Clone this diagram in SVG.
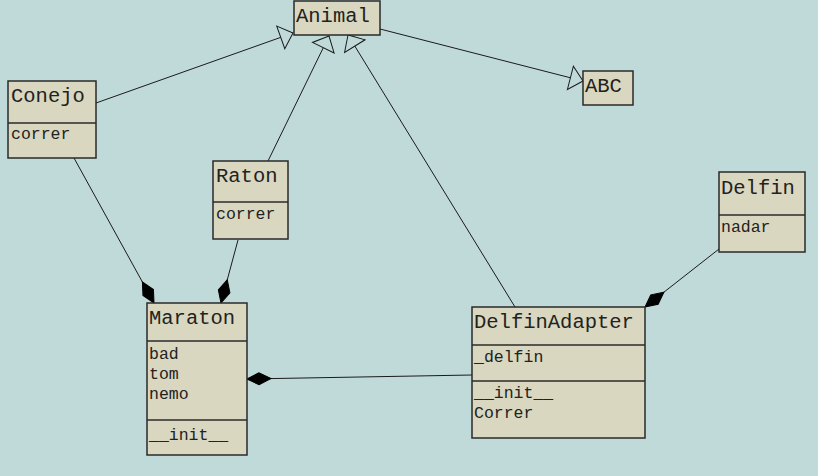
<svg xmlns="http://www.w3.org/2000/svg" width="818" height="476" viewBox="0 0 818 476">
<defs>
<style>
.box{fill:#d9d7bf;stroke:#2a2a2a;stroke-width:1.5}
.div{stroke:#2a2a2a;stroke-width:1.5}
.t{font-family:"Liberation Mono","Courier New",monospace;font-size:20.5px;fill:#222}
.s{font-family:"Liberation Mono","Courier New",monospace;font-size:16.5px;fill:#222}
.ln{stroke:#1a1a1a;stroke-width:1;fill:none}
</style>
<marker id="gen" markerUnits="userSpaceOnUse" viewBox="-16 -14 18 28" markerWidth="18" markerHeight="28" refX="0" refY="0" orient="auto">
<path d="M0,0 L-13,-12 L-13,12 Z" fill="#c0dada" stroke="#1a1a1a" stroke-width="1"/>
</marker>
<marker id="comp" markerUnits="userSpaceOnUse" viewBox="-26 -8 28 16" markerWidth="28" markerHeight="16" refX="0" refY="0" orient="auto">
<path d="M0,0 L-12,-6 L-24,0 L-12,6 Z" fill="#000" stroke="#000" stroke-width="1"/>
</marker>
</defs>
<rect width="818" height="476" fill="#c0dada"/>
<g id="connectors">
<line class="ln" x1="96" y1="103" x2="293" y2="33" marker-end="url(#gen)"/>
<line class="ln" x1="268" y1="161" x2="329" y2="36" marker-end="url(#gen)"/>
<line class="ln" x1="515" y1="307" x2="348" y2="35" marker-end="url(#gen)"/>
<line class="ln" x1="380" y1="29" x2="583" y2="81" marker-end="url(#gen)"/>
<line class="ln" x1="74" y1="158" x2="154" y2="303" marker-end="url(#comp)"/>
<line class="ln" x1="238" y1="240" x2="221" y2="303" marker-end="url(#comp)"/>
<line class="ln" x1="472" y1="375" x2="247" y2="379" marker-end="url(#comp)"/>
<line class="ln" x1="719" y1="249" x2="645" y2="307" marker-end="url(#comp)"/>
</g>
<g id="Animal">
<rect class="box" x="294" y="1" width="86" height="34"/>
<text class="t" x="296" y="22">Animal</text>
</g>
<g id="ABC">
<rect class="box" x="583" y="71" width="50" height="34"/>
<text class="t" x="585" y="92">ABC</text>
</g>
<g id="Conejo">
<rect class="box" x="8" y="81" width="88" height="77"/>
<line class="div" x1="8" y1="123" x2="96" y2="123"/>
<text class="t" x="11" y="102">Conejo</text>
<text class="s" x="11" y="139">correr</text>
</g>
<g id="Raton">
<rect class="box" x="213" y="161" width="75" height="78"/>
<line class="div" x1="213" y1="202" x2="288" y2="202"/>
<text class="t" x="216" y="182">Raton</text>
<text class="s" x="216" y="219">correr</text>
</g>
<g id="Delfin">
<rect class="box" x="719" y="172" width="86" height="80"/>
<line class="div" x1="719" y1="215" x2="805" y2="215"/>
<text class="t" x="721" y="194">Delfin</text>
<text class="s" x="721" y="232">nadar</text>
</g>
<g id="Maraton">
<rect class="box" x="147" y="303" width="100" height="152"/>
<line class="div" x1="147" y1="341" x2="247" y2="341"/>
<line class="div" x1="147" y1="420" x2="247" y2="420"/>
<text class="t" x="149" y="324">Maraton</text>
<text class="s" x="149" y="359">bad</text>
<text class="s" x="149" y="379">tom</text>
<text class="s" x="149" y="399">nemo</text>
<text class="s" x="149" y="440">__init__</text>
</g>
<g id="DelfinAdapter">
<rect class="box" x="472" y="307" width="173" height="131"/>
<line class="div" x1="472" y1="345" x2="645" y2="345"/>
<line class="div" x1="472" y1="381" x2="645" y2="381"/>
<text class="t" x="474" y="328">DelfinAdapter</text>
<text class="s" x="474" y="362">_delfin</text>
<text class="s" x="474" y="398">__init__</text>
<text class="s" x="474" y="418">Correr</text>
</g>
</svg>
